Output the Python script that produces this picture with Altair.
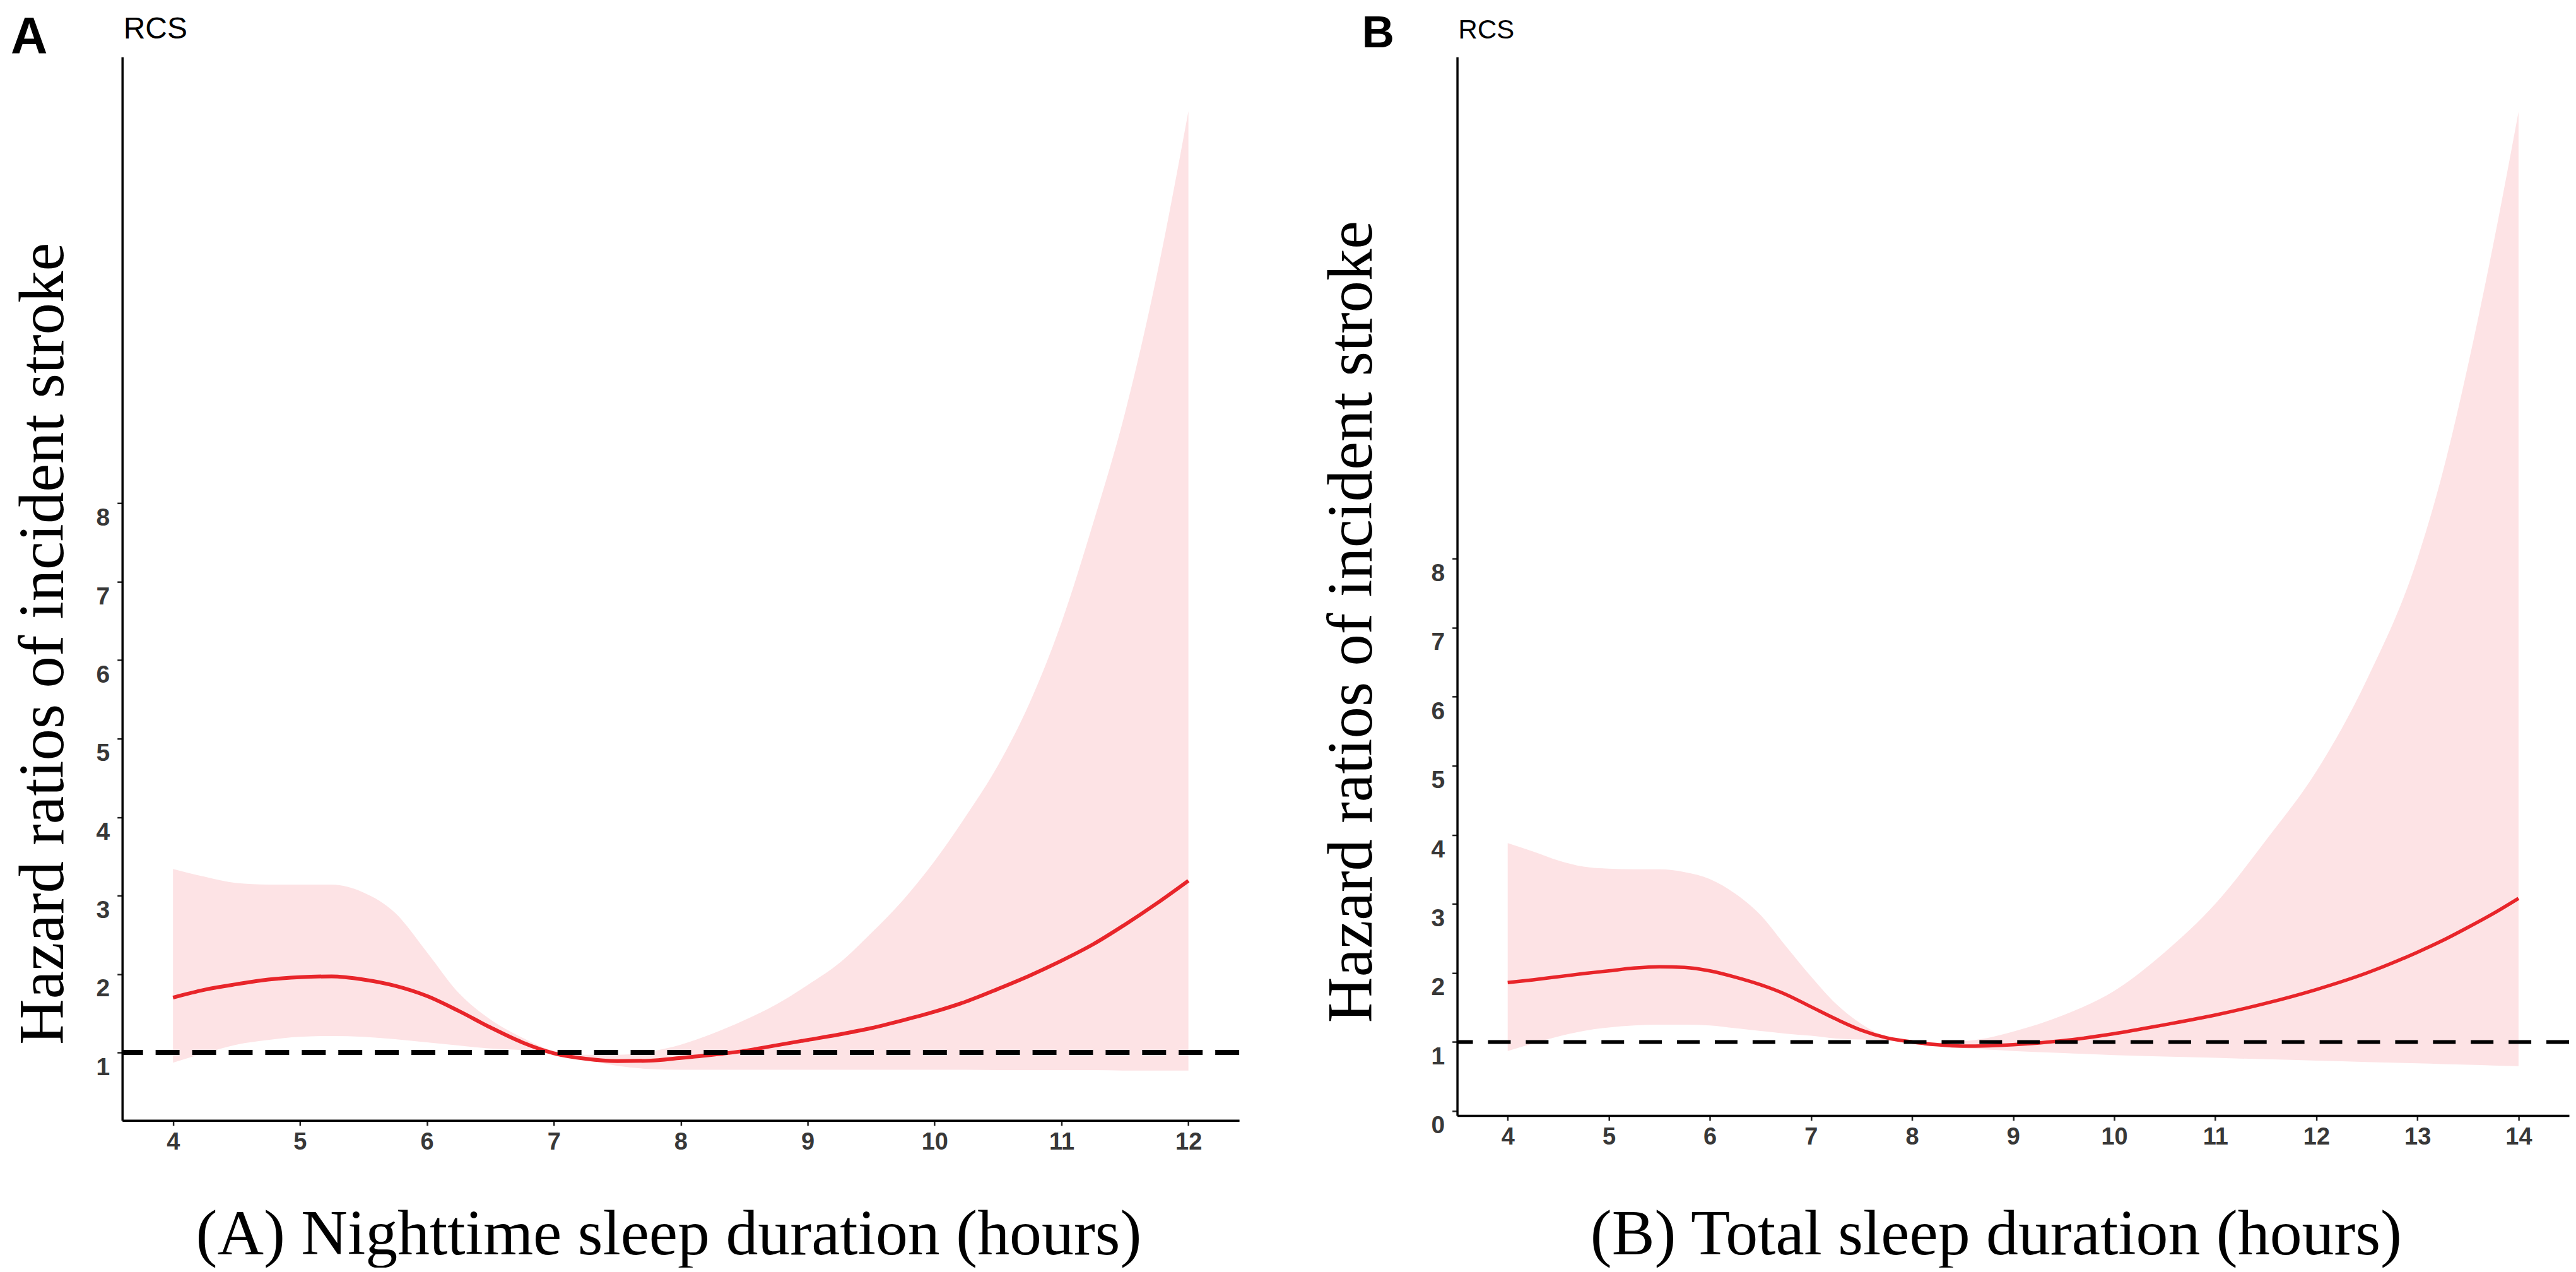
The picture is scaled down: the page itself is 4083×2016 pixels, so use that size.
import altair as alt
import pandas as pd

# ---------------- Panel A: nighttime sleep duration ----------------
a_hours = [4, 4.25, 4.5, 4.75, 5, 5.25, 5.5, 5.75, 6, 6.25, 6.5, 6.75, 7, 7.25, 7.5, 7.75,
           8, 8.25, 8.5, 8.75, 9, 9.25, 9.5, 9.75, 10, 10.25, 10.5, 10.75, 11, 11.25, 11.5, 11.75, 12]
a_hr = [1.70, 1.80, 1.87, 1.93, 1.96, 1.97, 1.93, 1.85, 1.72, 1.53, 1.32, 1.13, 0.99, 0.92, 0.89, 0.895,
        0.93, 0.97, 1.02, 1.09, 1.16, 1.23, 1.31, 1.41, 1.52, 1.65, 1.81, 1.98, 2.17, 2.38, 2.63, 2.90, 3.19]
a_lower = [0.87, 0.99, 1.10, 1.16, 1.20, 1.21, 1.20, 1.17, 1.13, 1.09, 1.05, 1.03, 0.99, 0.91, 0.83, 0.79,
           0.78, 0.78, 0.78, 0.78, 0.78, 0.78, 0.78, 0.78, 0.78, 0.78, 0.775, 0.775, 0.775, 0.775, 0.77, 0.77, 0.77]
a_upper = [3.34, 3.24, 3.16, 3.14, 3.14, 3.14, 3.04, 2.78, 2.28, 1.76, 1.42, 1.19, 1.02, 0.97, 0.97, 1.01,
           1.10, 1.24, 1.41, 1.61, 1.86, 2.14, 2.52, 2.94, 3.44, 4.02, 4.66, 5.46, 6.48, 7.75, 9.15, 10.9, 13.0]
a_xticks = [4, 5, 6, 7, 8, 9, 10, 11, 12]
a_yticks = [1, 2, 3, 4, 5, 6, 7, 8]

# ---------------- Panel B: total sleep duration ----------------
b_hours = [4, 4.25, 4.5, 4.75, 5, 5.25, 5.5, 5.75, 6, 6.25, 6.5, 6.75, 7, 7.25, 7.5, 7.75,
           8, 8.25, 8.5, 8.75, 9, 9.5, 10, 10.5, 11, 11.5, 12, 12.5, 13, 13.25, 13.5, 13.75, 14]
b_hr = [1.86, 1.90, 1.945, 1.99, 2.03, 2.07, 2.09, 2.08, 2.03, 1.94, 1.83, 1.69, 1.51, 1.33, 1.17, 1.06,
        1.0, 0.96, 0.94, 0.945, 0.96, 1.02, 1.12, 1.25, 1.39, 1.56, 1.76, 2.0, 2.3, 2.47, 2.66, 2.86, 3.08]
b_lower = [0.87, 0.98, 1.08, 1.16, 1.21, 1.24, 1.25, 1.25, 1.24, 1.20, 1.16, 1.12, 1.09, 1.05, 1.035, 1.02,
           1.0, 0.95, 0.91, 0.89, 0.87, 0.84, 0.81, 0.79, 0.77, 0.75, 0.73, 0.71, 0.69, 0.68, 0.67, 0.66, 0.65]
b_upper = [3.88, 3.76, 3.63, 3.54, 3.51, 3.50, 3.50, 3.46, 3.36, 3.15, 2.84, 2.39, 1.95, 1.55, 1.26, 1.07,
           1.0, 0.99, 1.01, 1.06, 1.15, 1.39, 1.74, 2.30, 3.0, 3.92, 4.92, 6.25, 8.0, 9.25, 10.8, 12.55, 14.47]
b_xticks = [4, 5, 6, 7, 8, 9, 10, 11, 12, 13, 14]
b_yticks = [0, 1, 2, 3, 4, 5, 6, 7, 8]

Y_TITLE = "Hazard ratios of incident stroke"
PINK = "#fde3e5"
RED = "#e8252a"
SERIF = "Liberation Serif"
SANS = "Liberation Sans"


def panel(hours, hr, lo, hi, xdom, ydom, xticks, yticks, xtitle, letter, width, height,
          letter_size, letter_x, letter_y, rcs_size, rcs_y, dash, dash_w, line_w,
          ytitle_x, ytitle_y, xtitle_x, xtitle_y):
    df = pd.DataFrame({"h": hours, "hr": hr, "lo": lo, "hi": hi})
    xs = alt.Scale(domain=xdom, nice=False, zero=False)
    ys = alt.Scale(domain=ydom, nice=False, zero=False)
    xaxis = alt.Axis(values=xticks, format="d", title=xtitle, titleFont=SERIF, titleFontSize=102,
                     titleFontWeight="normal", titleColor="black", titleX=xtitle_x, titleY=xtitle_y,
                     titleBaseline="alphabetic", titleAlign="center",
                     labelFont=SANS, labelFontSize=38, labelFontWeight="bold", labelColor="#383838",
                     labelPadding=8, tickSize=8, tickWidth=2.5, tickColor="#222222",
                     domainColor="black", domainWidth=3.5, grid=False)
    yaxis = alt.Axis(values=yticks, format="d", title=Y_TITLE, titleFont=SERIF, titleFontSize=101,
                     titleFontWeight="normal", titleColor="black", titleAngle=-90,
                     titleX=ytitle_x, titleY=ytitle_y, titleBaseline="alphabetic", titleAlign="center",
                     labelFont=SANS, labelFontSize=39, labelFontWeight="bold", labelColor="#383838",
                     labelBaseline="top", labelOffset=4, labelPadding=12, tickSize=8, tickWidth=2.5,
                     tickColor="#222222", domainColor="black", domainWidth=3.5, grid=False)
    base = alt.Chart(df)
    band = base.mark_area(color=PINK, opacity=1, interpolate="monotone").encode(
        x=alt.X("h:Q", scale=xs, axis=xaxis),
        y=alt.Y("lo:Q", scale=ys, axis=yaxis),
        y2="hi:Q",
    )
    line = base.mark_line(color=RED, strokeWidth=line_w, interpolate="monotone").encode(
        x=alt.X("h:Q", title=xtitle),
        y=alt.Y("hr:Q", title=Y_TITLE),
    )
    ref = alt.Chart(pd.DataFrame({"ref": [1]})).mark_rule(
        color="black", strokeDash=dash, strokeWidth=dash_w
    ).encode(y=alt.Y("ref:Q", title=Y_TITLE))
    lab = alt.Chart(pd.DataFrame({"t": [letter]})).mark_text(
        font=SANS, fontSize=letter_size, fontWeight="bold", color="black",
        align="left", baseline="top"
    ).encode(text="t:N", x=alt.value(letter_x), y=alt.value(letter_y))
    rcs = alt.Chart(pd.DataFrame({"t": ["RCS"]})).mark_text(
        font=SANS, fontSize=rcs_size, color="black", align="left", baseline="top"
    ).encode(text="t:N", x=alt.value(2), y=alt.value(rcs_y))
    return alt.layer(band, line, ref, lab, rcs).properties(width=width, height=height)


pa = panel(a_hours, a_hr, a_lower, a_upper, [3.6, 12.4], [0.133, 13.69], a_xticks, a_yticks,
           "(A) Nighttime sleep duration (hours)", "A", 1773, 1688,
           81, -177, -70, 48, -67, [38, 20], 8, 6, -94, 931, 867, 212)
pb = panel(b_hours, b_hr, b_lower, b_upper, [3.5, 14.5], [-0.064, 15.265], b_xticks, b_yticks,
           "(B) Total sleep duration (hours)", "B", 1765, 1680,
           71, -151, -71, 42, -62, [36, 24], 6, 5.5, -136, 896, 855, 220)

chart = alt.hconcat(pa, pb, spacing=125).properties(
    padding={"left": 9, "top": 9, "right": 0, "bottom": 0},
    background="white",
).configure_view(stroke=None)

chart.save("out.html", embed_options={"renderer": "svg", "actions": False})
